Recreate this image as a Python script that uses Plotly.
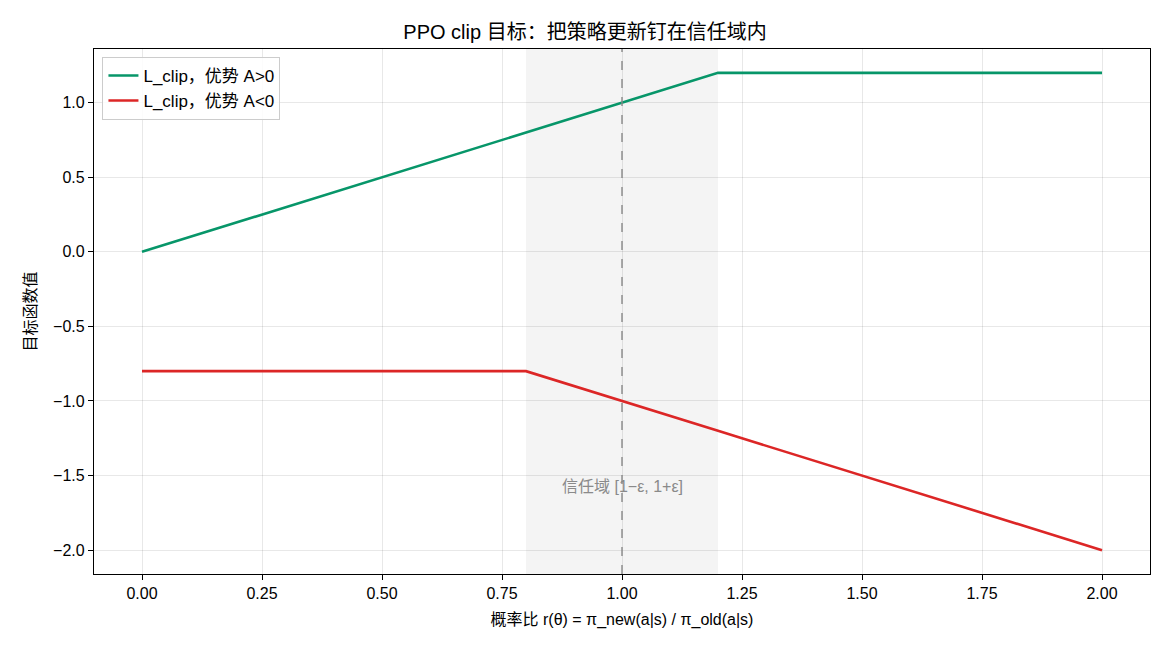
import plotly.graph_objects as go

ratio = [0.0, 0.8, 1.2, 2.0]
l_pos = [0.0, 0.8, 1.2, 1.2]
l_neg = [-0.8, -0.8, -1.2, -2.0]
eps_lo, eps_hi = 0.8, 1.2
x_ticks = [0.0, 0.25, 0.5, 0.75, 1.0, 1.25, 1.5, 1.75, 2.0]
y_ticks = [-2.0, -1.5, -1.0, -0.5, 0.0, 0.5, 1.0]

FONT = "Liberation Sans, Noto Sans CJK SC, sans-serif"

fig = go.Figure()
fig.add_trace(go.Scatter(x=ratio, y=l_pos, mode="lines", name="L_clip，优势 A>0",
                         line=dict(color="#079669", width=2.6)))
fig.add_trace(go.Scatter(x=ratio, y=l_neg, mode="lines", name="L_clip，优势 A<0",
                         line=dict(color="#dc2626", width=2.6)))

fig.add_vrect(x0=eps_lo, x1=eps_hi, fillcolor="rgba(128,128,128,0.09)", line_width=0, layer="below")
fig.add_vline(x=1.0, line=dict(color="#888888", width=1.4, dash="dash"))
fig.add_annotation(x=1.0, y=-1.57, text="信任域 [1−ε, 1+ε]", showarrow=False,
                   font=dict(size=16, color="#8a8a8a", family=FONT))

axis_common = dict(showline=True, linecolor="black", linewidth=1.2, mirror=True,
                   ticks="outside", ticklen=5, tickcolor="black",
                   showgrid=True, gridcolor="rgba(0,0,0,0.09)", gridwidth=1,
                   zeroline=False, tickfont=dict(size=16, color="black", family=FONT))

fig.update_xaxes(range=[-0.1, 2.1], tickvals=x_ticks, tickformat=".2f",
                 title=dict(text="概率比 r(θ) = π_new(a|s) / π_old(a|s)", font=dict(size=16, family=FONT), standoff=12),
                 **axis_common)
fig.update_yaxes(range=[-2.16, 1.36], tickvals=y_ticks, tickformat=".1f",
                 title=dict(text="目标函数值", font=dict(size=16, family=FONT), standoff=12),
                 **axis_common)

fig.update_layout(
    width=1170, height=650,
    margin=dict(l=94, r=20, t=49, b=76),
    plot_bgcolor="white", paper_bgcolor="white",
    font=dict(family=FONT, color="black"),
    title=dict(text="PPO clip 目标：把策略更新钉在信任域内", x=0.5, xanchor="center",
               y=1 - 32 / 650, yanchor="middle", font=dict(size=20, family=FONT)),
    legend=dict(x=0.008, y=0.985, xanchor="left", yanchor="top",
                bgcolor="rgba(255,255,255,0.85)", bordercolor="#cccccc", borderwidth=1,
                font=dict(size=17, family=FONT), tracegroupgap=0),
    showlegend=True,
)

fig.write_html("out.html")
